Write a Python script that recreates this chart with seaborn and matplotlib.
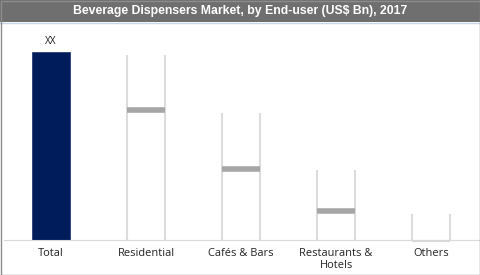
import matplotlib
matplotlib.use("Agg")
import matplotlib.pyplot as plt
import seaborn as sns
import pandas as pd
from matplotlib.patches import Rectangle

categories = ["Total", "Residential", "Cafés & Bars", "Restaurants &\nHotels", "Others"]
bar_tops = [100, 98.5, 67.5, 37, 14]
marks = [None, 69, 38, 15.3, None]
bar_colors = ["#001c5a", "#ffffff", "#ffffff", "#ffffff", "#ffffff"]
total_label = "XX"
title = "Beverage Dispensers Market, by End-user (US$ Bn), 2017"

sns.set_theme(style="white")
plt.rcParams["font.family"] = ["Open Sans", "DejaVu Sans"]

W, H = 480, 275
fig = plt.figure(figsize=(W / 100, H / 100), dpi=100)
fig.patch.set_facecolor("white")

ax_top_px, ax_bot_px = 24, 240
ax = fig.add_axes([3.5 / W, (H - ax_bot_px) / H, 475 / W, (ax_bot_px - ax_top_px) / H])

df = pd.DataFrame({"cat": categories, "val": bar_tops})
sns.barplot(data=df, x="cat", y="val", hue="cat", palette=bar_colors,
            legend=False, width=0.41, ax=ax, saturation=1)

ppu = (240 - 52) / 100.0
ax.set_ylim(0, (ax_bot_px - ax_top_px) / ppu)
ax.set_xlim(-0.5, len(categories) - 0.5)

for i, p in enumerate(ax.patches):
    x0 = p.get_x()
    w = p.get_width()
    h = p.get_height()
    if i == 0:
        p.set_edgecolor("#2a3f73")
        p.set_linewidth(0.6)
        ax.text(x0 + w / 2, h + 2.5, total_label, ha="center", va="bottom",
                fontsize=7.2, color="#222222")
    else:
        p.set_edgecolor("none")
        ax.vlines([x0, x0 + w], 0, h, colors="#dcdcdc", linewidth=1.5, zorder=3)
        if marks[i] is not None:
            ax.hlines(marks[i], x0, x0 + w, colors="#a6a6a6", linewidth=4.0, zorder=4)
        else:
            ax.hlines(-0.5, x0, x0 + w, colors="#d8d8d8", linewidth=1.5, zorder=3, clip_on=False)

ax.set_xlabel("")
ax.set_ylabel("")
ax.set_yticks([])
for s in ["top", "left", "right"]:
    ax.spines[s].set_visible(False)
ax.spines["bottom"].set_color("#d9d9d9")
ax.spines["bottom"].set_linewidth(0.8)
ax.tick_params(axis="x", length=0, pad=5.5, labelsize=7.9, labelcolor="#222222")

# title band
fig.patches.append(Rectangle((0, (H - 22) / H), 1, 22 / H, transform=fig.transFigure,
                             facecolor="#6f6f6f", edgecolor="none", zorder=0))
fig.lines.append(plt.Line2D([0, 1], [(H - 22.5) / H] * 2, transform=fig.transFigure,
                            color="#c6d7ea", linewidth=1))
fig.text(0.5, (H - 11) / H, title, ha="center", va="center", color="white",
         fontsize=8.8, fontweight="bold", family=["Liberation Sans", "DejaVu Sans"])
# border
fig.patches.append(Rectangle((0.5 / W, 0.5 / H), 1 - 1 / W, 1 - 1 / H, transform=fig.transFigure,
                             facecolor="none", edgecolor="#8c8c8c", linewidth=1, zorder=10))

fig.savefig("out.png", dpi=100)
